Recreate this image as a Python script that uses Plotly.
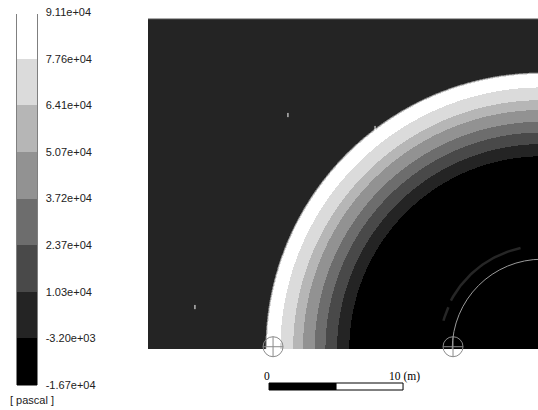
import numpy as np
import plotly.graph_objects as go

# Contour levels (Pa) and the labels printed on the legend bar
levels = [-16670, -3200, 10270, 23740, 37210, 50680, 64150, 77620, 91090]
level_labels = ["-1.67e+04", "-3.20e+03", "1.03e+04", "2.37e+04", "3.72e+04",
                "5.07e+04", "6.41e+04", "7.76e+04", "9.11e+04"]
band_grays = [0, 36, 73, 109, 146, 182, 219, 255]

# Radial pressure profile about the charge centre (radius m, pressure Pa)
profile_r = [0.0, 13.6, 14.38, 15.29, 16.16, 16.96, 17.84, 18.57, 19.52, 20.45, 20.55, 20.67, 40.0]
profile_p = [-16500, -16500, -3200, 10270, 23740, 37210, 50680, 64150, 77620, 91000, 70000, 3500, 3500]

# Isolated cells with spurious high pressure (x m, y m)
speck_x = [-18.96, -12.46, -25.90]
speck_y = [17.46, 16.49, 3.13]

# Gauge locations (x m, y m)
gauge_x = [-20.07, -6.64]
gauge_y = [0.17, 0.17]

# Weak reflected-wave fragments: radius (m) and angular extent (deg)
frag_r = [7.7, 7.65]
frag_a0 = [102, 156]
frag_a1 = [152, 164]

# Inner structure outline radius (m)
inner_radius = 6.7

# Scale bar (m)
scale_len = 10
scale_origin = -20.37

# view window (m), centre of the charge at the origin
res = 13.4  # pixels per metre
x_lo, x_hi = (148 - 542) / res, (538 - 542) / res
y_lo, y_hi = 0.0, 330 / res

xs = x_lo + (np.arange(390) + 0.5) / res
ys = y_lo + (np.arange(330) + 0.5) / res
X, Y = np.meshgrid(xs, ys)
Z = np.interp(np.hypot(X, Y), profile_r, profile_p)

zmin, zmax = levels[0], levels[-1]
colorscale = []
for i, g in enumerate(band_grays):
    c = f"rgb({g},{g},{g})"
    colorscale.append([i / 8, c])
    colorscale.append([(i + 1) / 8, c])


def px_x(p):
    """horizontal pixel -> paper fraction"""
    return (p - 148) / 390


def px_y(p):
    """vertical pixel -> paper fraction"""
    return (349 - p) / 330


fig = go.Figure()
fig.add_trace(go.Heatmap(
    x=xs, y=ys, z=Z, zmin=zmin, zmax=zmax, zsmooth=False,
    colorscale=colorscale, hoverinfo="skip",
    colorbar=dict(
        xref="container", yref="container",
        x=17 / 538, xanchor="left", y=1 - 15 / 410, yanchor="top",
        lenmode="pixels", len=373, thickness=20,
        xpad=0, ypad=0, outlinewidth=0,
        tickmode="array", tickvals=levels, ticktext=level_labels,
        ticks="outside", ticklen=7, tickcolor="rgba(0,0,0,0)",
        tickfont=dict(family="Liberation Sans", size=11, color="#222"),
    ),
))

for r, a0, a1 in zip(frag_r, frag_a0, frag_a1):
    th = np.radians(np.linspace(a0, a1, 40))
    fig.add_trace(go.Scatter(x=r * np.cos(th), y=r * np.sin(th), mode="lines",
                             line=dict(color="rgb(38,38,38)", width=2.5),
                             hoverinfo="skip", showlegend=False))

fig.add_trace(go.Scatter(x=speck_x, y=speck_y, mode="markers",
                         marker=dict(symbol="line-ns-open", size=3, color="#fff",
                                     line=dict(color="#fff", width=1)),
                         hoverinfo="skip", showlegend=False))

fig.add_trace(go.Scatter(x=gauge_x, y=gauge_y, mode="markers", cliponaxis=False,
                         marker=dict(symbol="circle-cross-open", size=20, color="#8a8a8a",
                                     line=dict(color="#8a8a8a", width=1)),
                         hoverinfo="skip", showlegend=False))

shapes = [
    dict(type="circle", xref="x", yref="y", x0=-inner_radius, x1=inner_radius,
         y0=-inner_radius, y1=inner_radius, line=dict(color="#9a9a9a", width=1)),
    dict(type="line", xref="paper", yref="paper", x0=0, x1=1, y0=1, y1=1,
         line=dict(color="#555", width=1)),
    # frame round the legend bar
    dict(type="rect", xref="paper", yref="paper", x0=px_x(17), x1=px_x(37),
         y0=px_y(385), y1=px_y(14), line=dict(color="#000", width=1)),
    dict(type="rect", xref="x", yref="paper", x0=scale_origin,
         x1=scale_origin + scale_len / 2, y0=px_y(383), y1=px_y(390),
         fillcolor="#000", line=dict(color="#000", width=1)),
    dict(type="rect", xref="x", yref="paper", x0=scale_origin + scale_len / 2,
         x1=scale_origin + scale_len, y0=px_y(383), y1=px_y(390),
         fillcolor="#fff", line=dict(color="#000", width=1)),
]

annotations = [
    dict(text="0", xref="x", yref="paper", x=scale_origin - 0.15, y=px_y(376),
         xanchor="center", yanchor="middle", showarrow=False,
         font=dict(family="Liberation Serif", size=11.5, color="#000")),
    dict(text="10 (m)", xref="x", yref="paper", x=scale_origin + scale_len - 1.2, y=px_y(376),
         xanchor="left", yanchor="middle", showarrow=False,
         font=dict(family="Liberation Serif", size=11.5, color="#000")),
    dict(text="[ pascal ]", xref="paper", yref="paper", x=px_x(8),
         y=px_y(400), xanchor="left", yanchor="middle", showarrow=False,
         font=dict(family="Liberation Sans", size=11, color="#222")),
]

fig.update_layout(
    width=538, height=410, autosize=False,
    margin=dict(l=148, r=0, t=19, b=61),
    paper_bgcolor="#fff", plot_bgcolor="#fff",
    xaxis=dict(range=[x_lo, x_hi], visible=False, showgrid=False, zeroline=False),
    yaxis=dict(range=[y_lo, y_hi], visible=False, showgrid=False, zeroline=False),
    shapes=shapes, annotations=annotations, showlegend=False,
)

fig.write_html("out.html")
